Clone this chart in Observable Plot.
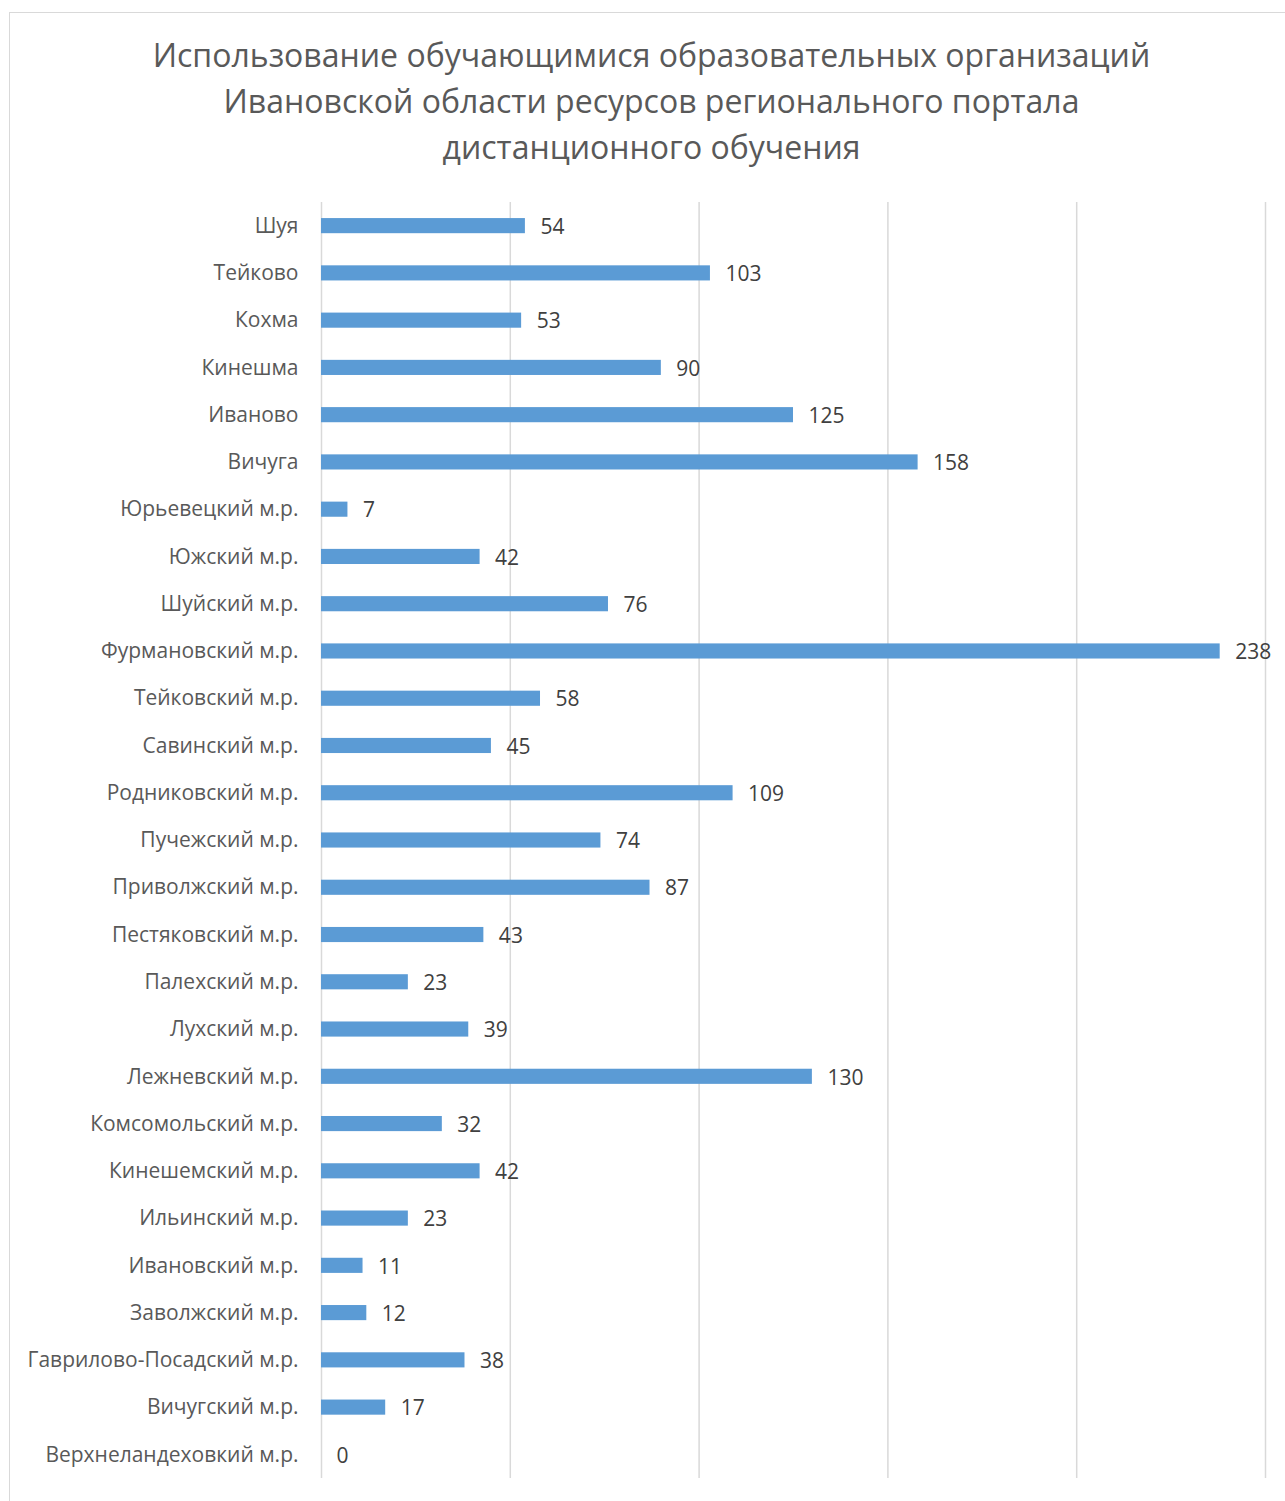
<!DOCTYPE html>
<html>
<head>
<meta charset="utf-8">
<script src="https://cdn.jsdelivr.net/npm/d3@7"></script>
<script src="https://cdn.jsdelivr.net/npm/@observablehq/plot@0.6"></script>
<style>
  html, body { margin: 0; padding: 0; background: #fff; }
  #wrap { position: relative; width: 1285px; height: 1501px; overflow: hidden; font-family: "Open Sans", sans-serif; }
  #frame { position: absolute; left: 9px; top: 12px; width: 1290px; height: 1500px; border: 1.5px solid #d9d9d9; box-sizing: border-box; pointer-events: none; }
  #title { position: absolute; left: 0; top: 32px; width: 1303px; text-align: center; font-size: 32px; line-height: 46px; color: #595959; }
  #chart { position: absolute; left: 0; top: 190px; }
</style>
</head>
<body>
<div id="wrap">
  <div id="frame"></div>
  <div id="title">Использование обучающимися образовательных организаций<br>Ивановской области ресурсов регионального портала<br>дистанционного обучения</div>
  <div id="chart"></div>
</div>
<script>
const categories = [
  "Шуя", "Тейково", "Кохма", "Кинешма", "Иваново", "Вичуга",
  "Юрьевецкий м.р.", "Южский м.р.", "Шуйский м.р.", "Фурмановский м.р.",
  "Тейковский м.р.", "Савинский м.р.", "Родниковский м.р.", "Пучежский м.р.",
  "Приволжский м.р.", "Пестяковский м.р.", "Палехский м.р.", "Лухский м.р.",
  "Лежневский м.р.", "Комсомольский м.р.", "Кинешемский м.р.", "Ильинский м.р.",
  "Ивановский м.р.", "Заволжский м.р.", "Гаврилово-Посадский м.р.",
  "Вичугский м.р.", "Верхнеландеховкий м.р."
];
const values = [54, 103, 53, 90, 125, 158, 7, 42, 76, 238, 58, 45, 109, 74, 87, 43, 23, 39, 130, 32, 42, 23, 11, 12, 38, 17, 0];
const gridTicks = [0, 50, 100, 150, 200, 250];

const data = categories.map((c, i) => ({ name: c, value: values[i] }));

const chart = Plot.plot({
  width: 1285,
  height: 1311,
  marginTop: 12,
  marginBottom: 23,
  marginLeft: 321,
  marginRight: 20,
  style: { fontFamily: "'Open Sans', sans-serif", fontSize: "21px", color: "#595959", background: "transparent" },
  x: { domain: [0, 250], axis: null },
  y: { domain: categories, paddingInner: 0.68, paddingOuter: 0.34, round: false, label: null, tickSize: 0, tickPadding: 23 },
  marks: [
    Plot.ruleX(gridTicks, { stroke: "#d9d9d9", strokeWidth: 1.5 }),
    Plot.barX(data, { x: "value", y: "name", fill: "#5b9bd5" }),
    Plot.text(data, { x: "value", y: "name", text: d => String(d.value), textAnchor: "start", dx: 15, dy: 1, fill: "#404040", fontSize: 21 }),
    Plot.axisY({ tickSize: 0, tickPadding: 23, label: null, fontSize: 21, fill: "#595959" })
  ]
});
document.getElementById("chart").appendChild(chart);
</script>
</body>
</html>
